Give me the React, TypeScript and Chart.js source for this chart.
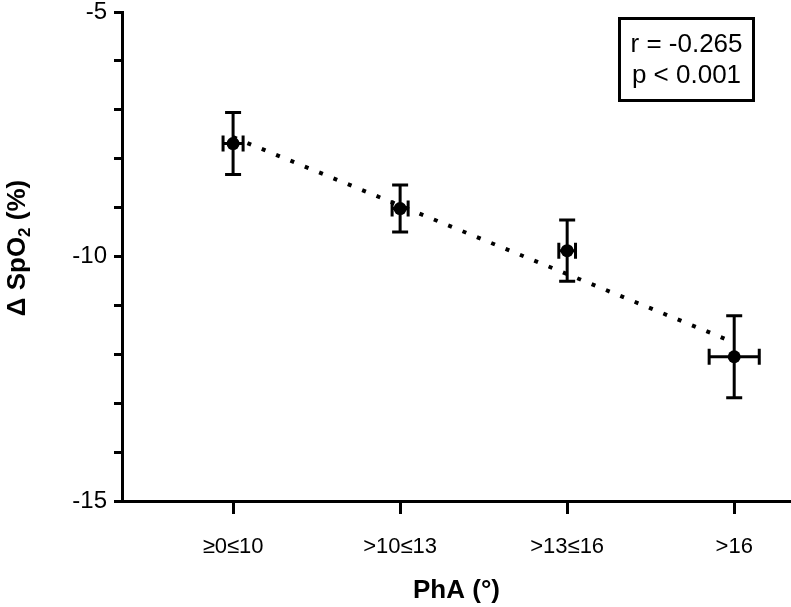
import { useEffect, useRef } from 'react';
import { Chart, registerables } from 'chart.js';

Chart.register(...registerables);

const categories = ['≥0≤10', '>10≤13', '>13≤16', '>16'];
const meanDeltaSpO2 = [-7.69, -9.02, -9.88, -12.05];
const semDeltaSpO2 = [0.635, 0.48, 0.625, 0.84];
const semPhA = [0.06, 0.048, 0.05, 0.15];
const trendX = [1, 4];
const trendY = [-7.56, -11.76];
const yTickLabels = [-15, -10, -5];
const statLines = ['r = -0.265', 'p < 0.001'];
const xTitle = 'PhA (°)';

const FONT = '"Liberation Sans", Arial, Helvetica, sans-serif';

const errorBarPlugin = {
  id: 'errorBars',
  beforeDatasetsDraw(chart: any) {
    const { ctx, scales } = chart;
    const x = scales.x;
    const y = scales.y;
    const cap = 8;
    ctx.save();
    ctx.strokeStyle = '#000';
    ctx.lineWidth = 3;
    ctx.lineCap = 'butt';
    meanDeltaSpO2.forEach((m, i) => {
      const xv = i + 1;
      const px = x.getPixelForValue(xv);
      const py = y.getPixelForValue(m);
      const yt = y.getPixelForValue(m + semDeltaSpO2[i]);
      const yb = y.getPixelForValue(m - semDeltaSpO2[i]);
      const xl = x.getPixelForValue(xv - semPhA[i]);
      const xr = x.getPixelForValue(xv + semPhA[i]);
      ctx.beginPath();
      ctx.moveTo(px, yt);
      ctx.lineTo(px, yb);
      ctx.moveTo(px - cap, yt);
      ctx.lineTo(px + cap, yt);
      ctx.moveTo(px - cap, yb);
      ctx.lineTo(px + cap, yb);
      ctx.moveTo(xl, py);
      ctx.lineTo(xr, py);
      ctx.moveTo(xl, py - cap);
      ctx.lineTo(xl, py + cap);
      ctx.moveTo(xr, py - cap);
      ctx.lineTo(xr, py + cap);
      ctx.stroke();
    });
    ctx.restore();
  },
};

const annotationPlugin = {
  id: 'annotations',
  afterDraw(chart: any) {
    const { ctx, chartArea } = chart;
    ctx.save();
    // stats box
    ctx.strokeStyle = '#000';
    ctx.lineWidth = 3;
    ctx.strokeRect(619.5, 18.5, 134, 82);
    ctx.fillStyle = '#000';
    ctx.font = `26px ${FONT}`;
    ctx.textAlign = 'center';
    ctx.textBaseline = 'alphabetic';
    ctx.fillText(statLines[0], 686.5, 52);
    ctx.fillText(statLines[1], 686.5, 83);

    // x title
    ctx.font = `bold 26px ${FONT}`;
    ctx.fillText(xTitle, (chartArea.left + chartArea.right) / 2, 598);

    // y title with subscript
    ctx.translate(25, 248);
    ctx.rotate(-Math.PI / 2);
    const bigFont = `bold 26px ${FONT}`;
    const smallFont = `bold 17px ${FONT}`;
    const p1 = 'Δ SpO';
    const p2 = '2';
    const p3 = ' (%)';
    ctx.font = bigFont;
    const w1 = ctx.measureText(p1).width;
    const w3 = ctx.measureText(p3).width;
    ctx.font = smallFont;
    const w2 = ctx.measureText(p2).width;
    const total = w1 + w2 + w3;
    let cx = -total / 2;
    ctx.textAlign = 'left';
    ctx.font = bigFont;
    ctx.fillText(p1, cx, 0);
    cx += w1;
    ctx.font = smallFont;
    ctx.fillText(p2, cx, 5);
    cx += w2;
    ctx.font = bigFont;
    ctx.fillText(p3, cx, 0);
    ctx.restore();
  },
};

export default function App() {
  const canvasRef = useRef<HTMLCanvasElement | null>(null);

  useEffect(() => {
    if (!canvasRef.current) return;
    const chart = new Chart(canvasRef.current, {
      type: 'scatter',
      data: {
        datasets: [
          {
            type: 'scatter',
            data: meanDeltaSpO2.map((v, i) => ({ x: i + 1, y: v })),
            pointRadius: 6.5,
            pointBackgroundColor: '#000',
            pointBorderColor: '#000',
            pointBorderWidth: 0,
            clip: false,
          } as any,
          {
            type: 'line',
            data: trendX.map((xv, i) => ({ x: xv, y: trendY[i] })),
            borderColor: '#000',
            borderWidth: 4,
            borderDash: [4, 11.5],
            borderCapStyle: 'butt',
            pointRadius: 0,
            fill: false,
            tension: 0,
            clip: false,
          } as any,
        ],
      },
      options: {
        responsive: false,
        animation: false,
        devicePixelRatio: 1,
        layout: { autoPadding: false, padding: { top: 12, right: 0, left: 0, bottom: 0 } },
        plugins: {
          legend: { display: false },
          tooltip: { enabled: false },
        },
        scales: {
          x: {
            type: 'linear',
            min: 0.335,
            max: 4.34,
            afterBuildTicks: (s: any) => {
              s.ticks = categories.map((_, i) => ({ value: i + 1 }));
            },
            afterFit: (s: any) => {
              s.height = 106;
              s.paddingLeft = 0;
              s.paddingRight = 0;
            },
            grid: {
              drawOnChartArea: false,
              color: '#000',
              lineWidth: 3,
              tickLength: 13,
            },
            border: { display: true, color: '#000', width: 3 },
            ticks: {
              color: '#000',
              font: { family: FONT, size: 22 },
              padding: 20,
              maxRotation: 0,
              autoSkip: false,
              callback: (v: any) => categories[Math.round(v) - 1] ?? '',
            },
          },
          y: {
            type: 'linear',
            min: -15,
            max: -5,
            afterFit: (s: any) => {
              s.width = 122;
              s.paddingTop = 12;
              s.paddingBottom = 0;
            },
            grid: {
              drawOnChartArea: false,
              color: '#000',
              lineWidth: 3,
              tickLength: 8,
            },
            border: { display: true, color: '#000', width: 3 },
            ticks: {
              stepSize: 1,
              color: '#000',
              font: { family: FONT, size: 24, lineHeight: 1 },
              padding: 7,
              autoSkip: false,
              callback: (v: any) => (yTickLabels.includes(Number(v)) ? String(v) : ''),
            },
          },
        },
      } as any,
      plugins: [errorBarPlugin, annotationPlugin],
    });
    return () => chart.destroy();
  }, []);

  return (
    <div style={{ position: 'absolute', left: 0, top: 0, width: 791, height: 607, background: '#fff' }}>
      <canvas ref={canvasRef} width={791} height={607} style={{ display: 'block' }} />
    </div>
  );
}
